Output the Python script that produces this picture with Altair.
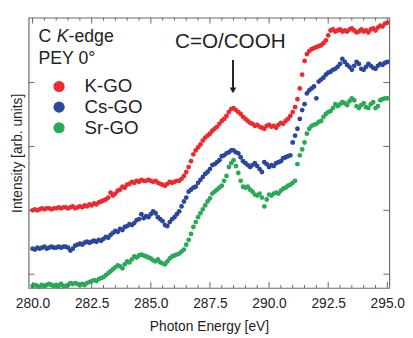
import altair as alt
import pandas as pd

# photon energy grid (eV)
energy = [round(280.0 + 0.1 * i, 1) for i in range(151)]

# intensities (arb. units)
k_go = [
    80, 81, 80, 81, 82, 81, 82, 82, 81, 82,
    82, 83, 82, 83, 83, 82, 83, 84, 82, 83,
    84, 83, 85, 84, 86, 85, 87, 86, 88, 89,
    90, 91, 93, 98, 95, 97, 100, 101, 104, 103,
    106, 107, 109, 108, 110, 109, 111, 110, 110, 111,
    110, 109, 110, 108, 107, 106, 105, 107, 109, 108,
    109, 110, 110, 112, 115, 119, 124, 130, 137, 141,
    144, 147, 151, 154, 156, 158, 161, 163, 165, 168,
    171, 173, 176, 180, 183, 184, 182, 180, 178, 175,
    173, 171, 169, 168, 166, 167, 165, 164, 163, 166,
    167, 165, 166, 164, 167, 169, 168, 171, 173, 176,
    180, 185, 193, 204, 218, 232, 239, 242, 244, 245,
    246, 247, 248, 250, 253, 258, 263, 264, 262, 263,
    264, 262, 263, 262, 264, 265, 263, 261, 262, 264,
    262, 263, 261, 264, 265, 263, 266, 268, 267, 270,
    271,
]
cs_go = [
    41, 40, 42, 41, 42, 43, 41, 42, 43, 42,
    42, 43, 42, 43, 43, 42, 39, 41, 44, 45,
    46, 45, 47, 48, 47, 48, 49, 48, 50, 49,
    51, 53, 52, 55, 57, 59, 58, 61, 60, 63,
    64, 66, 65, 67, 70, 71, 76, 72, 74, 73,
    76, 79, 77, 73, 71, 69, 65, 64, 68, 71,
    73, 76, 79, 84, 89, 93, 99, 101, 103, 104,
    108, 111, 114, 117, 119, 122, 126, 127, 129, 131,
    135, 136, 138, 139, 141, 141, 139, 138, 134, 130,
    128, 126, 124, 126, 128, 125, 122, 119, 129, 127,
    124, 126, 125, 128, 129, 130, 133, 134, 135, 136,
    149, 156, 163, 173, 182, 188, 199, 202, 204, 206,
    194, 211, 213, 215, 218, 220, 221, 223, 224, 226,
    229, 234, 231, 228, 226, 223, 227, 231, 229, 224,
    223, 226, 229, 227, 225, 224, 227, 229, 228, 230,
    231,
]
sr_go = [
    3, 4, 3, 2, 4, 3, 4, 5, 4, 3,
    4, 3, 5, 3, 3, 4, 6, 5, 6, 5,
    4, 5, 4, 6, 7, 8, 9, 8, 10, 11,
    12, 14, 16, 18, 20, 22, 24, 23, 21, 25,
    28, 27, 30, 33, 32, 34, 35, 34, 33, 32,
    31, 29, 28, 30, 27, 26, 25, 28, 31, 33,
    34, 35, 36, 38, 40, 45, 50, 56, 63, 68,
    73, 77, 81, 85, 89, 92, 97, 99, 101, 103,
    105, 110, 115, 124, 128, 131, 125, 118, 110, 104,
    103, 104, 101, 99, 96, 95, 97, 93, 84, 91,
    96, 95, 97, 98, 97, 100, 102, 103, 105, 106,
    108, 110, 127, 136, 142, 149, 158, 163, 166, 167,
    168, 170, 171, 175, 178, 180, 181, 184, 188, 186,
    188, 190, 189, 187, 191, 194, 192, 186, 184, 187,
    189, 185, 184, 188, 190, 184, 186, 192, 193, 194,
    194,
]

samples = ["K-GO", "Cs-GO", "Sr-GO"]
colors = ["#ec2a2f", "#2b479c", "#2aa957"]
x_major = [280.0, 282.5, 285.0, 287.5, 290.0, 292.5, 295.0]
x_minor = [280.5 + 0.5 * i for i in range(29) if (280.5 + 0.5 * i) not in x_major]
y_ticks = [15, 80, 145, 210]

W, H = 367, 275
FONT = "Liberation Sans"
XT = "Photon Energy [eV]"
YT = "Intensity [arb. units]"

rows = []
for name, vals in zip(samples, [k_go, cs_go, sr_go]):
    for e, v in zip(energy, vals):
        rows.append({"E": e, "I": v, "sample": name})
df = pd.DataFrame(rows)

xscale = alt.Scale(domain=[279.834, 295.083], nice=False, zero=False)
yscale = alt.Scale(domain=[1, 276], nice=False, zero=False)
cscale = alt.Scale(domain=samples, range=colors)

x_axis = alt.Axis(values=x_major, format=".1f", labelFlush=False, labelOverlap=False)
y_axis = alt.Axis(labels=False, ticks=False)


def X(field="E"):
    return alt.X(f"{field}:Q", scale=xscale, title=XT, axis=x_axis)


def Y(field="I"):
    return alt.Y(f"{field}:Q", scale=yscale, title=YT, axis=y_axis)


points = alt.Chart(df).mark_circle(size=24, opacity=1).encode(
    x=X(), y=Y(),
    color=alt.Color("sample:N", scale=cscale, legend=None),
)


def tick_layer(vals, channel, p0, p1):
    if channel == "x":
        d = pd.DataFrame({"E": vals})
        return alt.Chart(d).mark_rule(color="#666", strokeWidth=1).encode(
            x=X(), y=alt.value(p0), y2=alt.value(p1))
    d = pd.DataFrame({"I": vals})
    return alt.Chart(d).mark_rule(color="#666", strokeWidth=1).encode(
        y=Y(), x=alt.value(p0), x2=alt.value(p1))


ticks = [
    tick_layer(x_major, "x", H, H - 6),
    tick_layer(x_minor, "x", H, H - 3),
    tick_layer(x_major, "x", 0, 6),
    tick_layer(x_minor, "x", 0, 3),
    tick_layer(y_ticks, "y", 0, 6),
    tick_layer(y_ticks, "y", W, W - 6),
]

# legend (drawn inside the plot)
leg = pd.DataFrame({
    "sample": samples,
    "E": [281.12] * 3,
    "I": [206, 185, 164],
    "TE": [282.2] * 3,
})
leg_pts = alt.Chart(leg).mark_circle(size=130, opacity=1).encode(
    x=X(), y=Y(),
    color=alt.Color("sample:N", scale=cscale, legend=None),
)
leg_txt = alt.Chart(leg).mark_text(align="left", baseline="middle", fontSize=19,
                                   font=FONT, color="#222").encode(
    x=X("TE"), y=Y(), text="sample:N",
)

labels = pd.DataFrame({
    "E": [280.25, 281.02, 281.52, 280.25],
    "I": [256, 256, 256, 234],
    "t": ["C", "K", "-edge", "PEY 0°"],
    "style": ["normal", "italic", "normal", "normal"],
})
lab_norm = alt.Chart(labels[labels["style"] == "normal"]).mark_text(
    align="left", baseline="middle", fontSize=18, font=FONT, color="#222").encode(
    x=X(), y=Y(), text="t:N",
)
lab_it = alt.Chart(labels[labels["style"] == "italic"]).mark_text(
    align="left", baseline="middle", fontSize=18, font=FONT, fontStyle="italic",
    color="#222").encode(
    x=X(), y=Y(), text="t:N",
)

ann = pd.DataFrame({"E": [288.36], "I": [251], "t": ["C=O/COOH"]})
ann_txt = alt.Chart(ann).mark_text(align="center", baseline="middle", fontSize=21,
                                   font=FONT, color="#222").encode(
    x=X(), y=Y(), text="t:N",
)
arrow = pd.DataFrame({"E": [288.475], "I": [233], "I2": [202]})
arrow_line = alt.Chart(arrow).mark_rule(color="#222", strokeWidth=2).encode(
    x=X(), y=Y(), y2="I2:Q",
)
arrow_head = alt.Chart(arrow).mark_point(shape="triangle-down", filled=True, size=45,
                                         color="#222", opacity=1).encode(
    x=X(), y=Y("I2"),
)

chart = alt.layer(points, *ticks, leg_pts, leg_txt, lab_norm, lab_it, ann_txt,
                  arrow_line, arrow_head).properties(
    width=W, height=H,
    autosize=alt.AutoSizeParams(type="none"),
    padding={"left": 21, "top": 7, "right": 16, "bottom": 45},
).configure_view(
    stroke="#6a6a6a", strokeWidth=1.2
).configure_axisX(
    ticks=False, domain=False, grid=False,
    labelFontSize=14, labelPadding=9, titleFontSize=14, titleFontWeight="normal",
    titlePadding=9, labelColor="#222", titleColor="#222",
    labelFont=FONT, titleFont=FONT,
).configure_axisY(
    labels=False, ticks=False, domain=False, grid=False,
    titleFontSize=14, titleFontWeight="normal", titlePadding=4,
    titleColor="#222", titleFont=FONT,
)

chart.save("out.html", embed_options={"renderer": "svg", "actions": False})
